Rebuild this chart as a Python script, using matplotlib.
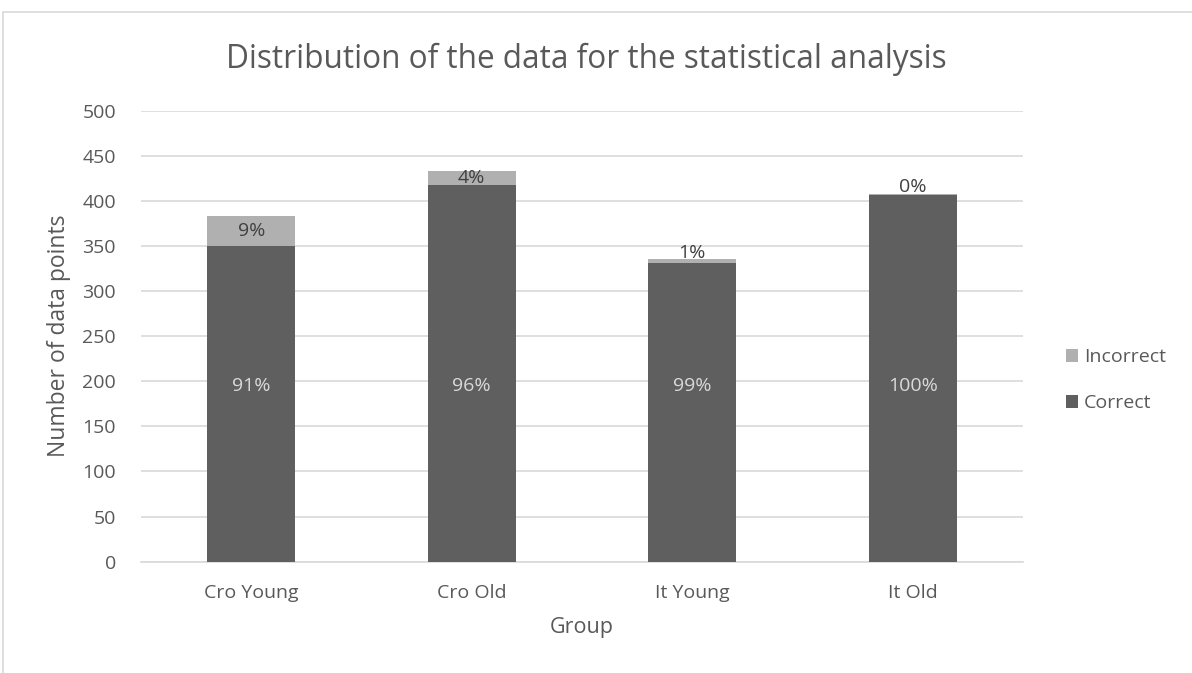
import matplotlib.pyplot as plt
from matplotlib.patches import Rectangle

# values
groups = ["Cro Young", "Cro Old", "It Young", "It Old"]
correct = [350, 417, 331, 407]
incorrect = [33, 16, 4, 1]
correct_pct = ["91%", "96%", "99%", "100%"]
incorrect_pct = ["9%", "4%", "1%", "0%"]

plt.rcParams["font.family"] = ["Open Sans", "DejaVu Sans"]
text_col = "#595959"

fig = plt.figure(figsize=(11.92, 6.73), dpi=100)
ax = fig.add_axes([141 / 1192, 1 - 561.7 / 673, (1023 - 141) / 1192, (561.7 - 110.6) / 673])

x = range(len(groups))
ax.bar(x, correct, width=0.4, color="#5f5f5f", label="Correct", zorder=3)
ax.bar(x, incorrect, width=0.4, bottom=correct, color="#b0b0b0", label="Incorrect", zorder=3)

# data labels
for i in x:
    ax.text(i, 195, correct_pct[i], ha="center", va="center", color="#d9d9d9", fontsize=14)
    top = correct[i] + incorrect[i]
    if incorrect[i] >= 10:
        ax.text(i, correct[i] + incorrect[i] / 2, incorrect_pct[i], ha="center", va="center",
                color="#404040", fontsize=14)
    else:
        ax.text(i, top - 3, incorrect_pct[i], ha="center", va="bottom", color="#404040", fontsize=14)

ax.set_ylim(0, 500)
ax.set_xlim(-0.5, 3.5)
ax.set_yticks(range(0, 501, 50))
ax.set_xticks(list(x))
ax.set_xticklabels(groups)
ax.yaxis.grid(True, color="#d9d9d9", linewidth=1.2, zorder=0)
ax.tick_params(axis="both", length=0, labelsize=14, colors=text_col)
ax.tick_params(axis="y", pad=18)
ax.tick_params(axis="x", pad=16)
for s in ["top", "right", "left"]:
    ax.spines[s].set_visible(False)
ax.spines["bottom"].set_color("#d9d9d9")
ax.spines["bottom"].set_linewidth(1.2)

ax.set_ylabel("Number of data points", fontsize=16.5, color=text_col, labelpad=8)
ax.set_xlabel("Group", fontsize=15.5, color=text_col, labelpad=11)
fig.text(586 / 1192, 1 - 59 / 673, "Distribution of the data for the statistical analysis",
         ha="center", va="center", fontsize=22.7, color=text_col)

handles, labels = ax.get_legend_handles_labels()
leg = fig.legend(handles[::-1], labels[::-1], loc="center left", bbox_to_anchor=(1048 / 1192, 1 - 380 / 673),
                 frameon=False, fontsize=14, handlelength=0.65, handleheight=0.65, handletextpad=0.3,
                 labelspacing=1.45)
for t in leg.get_texts():
    t.set_color(text_col)

# outer chart border (partly cropped)
fig.patches.append(Rectangle((3 / 1192, -0.1), 1.2, 1 - 12 / 673 + 0.1, transform=fig.transFigure,
                             fill=False, edgecolor="#d9d9d9", linewidth=1.2))

fig.savefig("out.png", dpi=100)
